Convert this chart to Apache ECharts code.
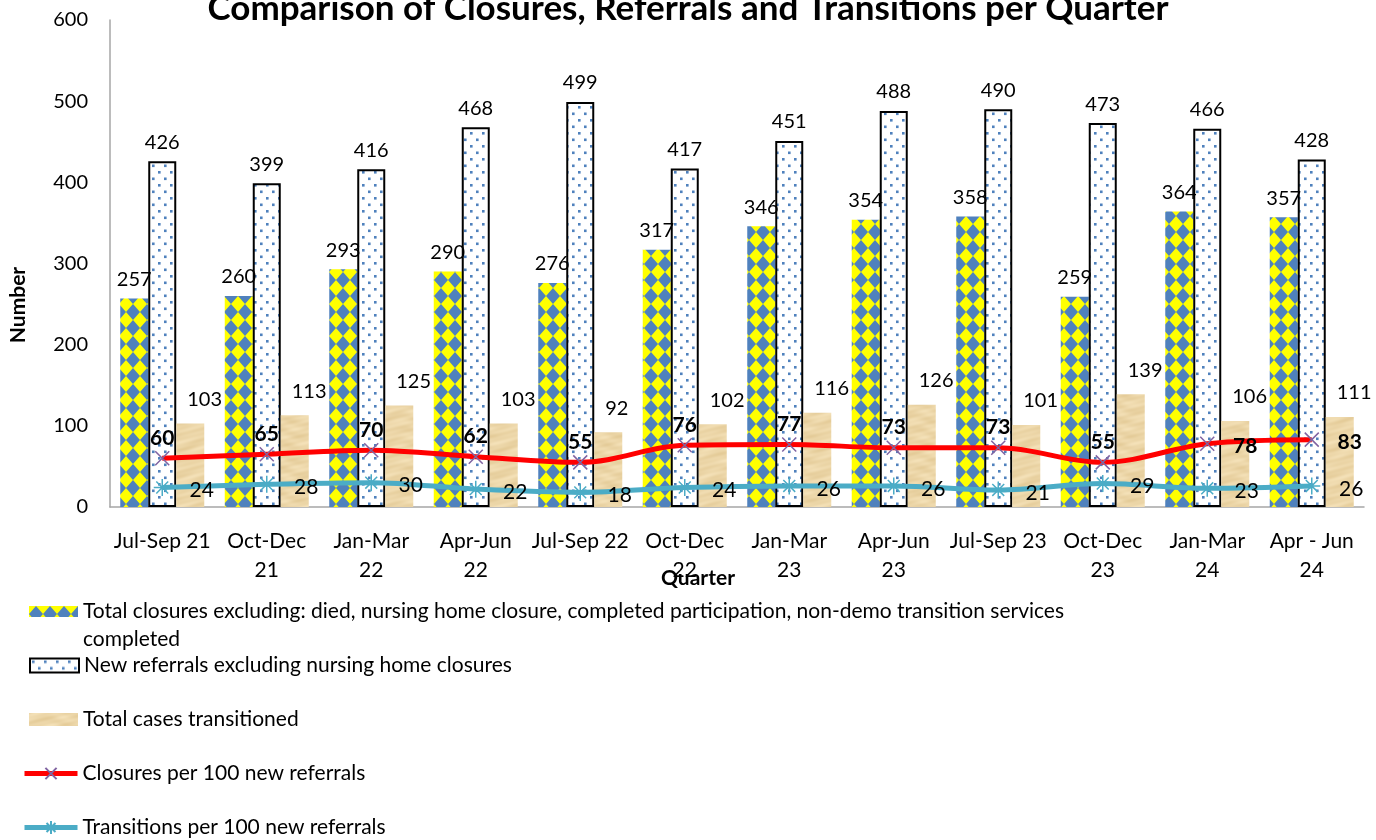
<!DOCTYPE html>
<html>
<head>
<meta charset="utf-8">
<script src="https://cdn.jsdelivr.net/npm/echarts@6/dist/echarts.min.js"></script>
<style>
  html, body { margin: 0; padding: 0; background: #ffffff; }
  #chart { width: 1376px; height: 840px; }
</style>
</head>
<body>
<div id="chart"></div>
<script>
// Quarterly figures
const quarters = ['Jul-Sep 21', 'Oct-Dec 21', 'Jan-Mar 22', 'Apr-Jun 22', 'Jul-Sep 22', 'Oct-Dec 22',
                  'Jan-Mar 23', 'Apr-Jun 23', 'Jul-Sep 23', 'Oct-Dec 23', 'Jan-Mar 24', 'Apr - Jun 24'];
const totalClosures = [257, 260, 293, 290, 276, 317, 346, 354, 358, 259, 364, 357];
const newReferrals = [426, 399, 416, 468, 499, 417, 451, 488, 490, 473, 466, 428];
const casesTransitioned = [103, 113, 125, 103, 92, 102, 116, 126, 101, 139, 106, 111];
const closuresPer100 = [60, 65, 70, 62, 55, 76, 77, 73, 73, 55, 78, 83];
const transitionsPer100 = [24, 28, 30, 22, 18, 24, 26, 26, 21, 29, 23, 26];

const NAME_CLOSURES = 'Total closures excluding: died, nursing home closure, completed participation, non-demo transition services completed';
const NAME_REFERRALS = 'New referrals excluding nursing home closures';
const NAME_TRANSITIONED = 'Total cases transitioned';
const NAME_CLOSE_RATE = 'Closures per 100 new referrals';
const NAME_TRANS_RATE = 'Transitions per 100 new referrals';

const FONT = 'Lato, "Open Sans", sans-serif';

// Yellow / blue diamond checker fill
function diamondFill() {
  const W = 14, H = 16;
  const c = document.createElement('canvas');
  c.width = W; c.height = H;
  const g = c.getContext('2d');
  g.fillStyle = '#FFFF00';
  g.fillRect(0, 0, W, H);
  g.fillStyle = '#4F81BD';
  g.beginPath();
  g.moveTo(W / 2, 0); g.lineTo(W, H / 2); g.lineTo(W / 2, H); g.lineTo(0, H / 2);
  g.closePath();
  g.fill();
  return c;
}

// White fill with staggered blue dots
function dotFill() {
  const W = 12, H = 13;
  const c = document.createElement('canvas');
  c.width = W; c.height = H;
  const g = c.getContext('2d');
  g.fillStyle = '#FFFFFF';
  g.fillRect(0, 0, W, H);
  g.fillStyle = '#4F81BD';
  g.fillRect(2, 2, 2.6, 2.6);
  g.fillRect(8, 8.5, 2.6, 2.6);
  return c;
}

// Tan parchment-like texture
function parchmentFill() {
  const W = 64, H = 64;
  const c = document.createElement('canvas');
  c.width = W; c.height = H;
  const g = c.getContext('2d');
  const img = g.createImageData(W, H);
  for (let y = 0; y < H; y++) {
    for (let x = 0; x < W; x++) {
      const n = 0.45 * Math.sin(y * 0.49 + 2.2 * Math.sin(x * 0.098))
              + 0.30 * Math.sin(x * 0.196 + y * 0.294)
              + 0.25 * Math.sin(y * 1.178 + x * 0.098 * 3);
      const i = (y * W + x) * 4;
      img.data[i] = 236 + 8 * n;
      img.data[i + 1] = 214 + 11 * n;
      img.data[i + 2] = 168 + 16 * n;
      img.data[i + 3] = 255;
    }
  }
  g.putImageData(img, 0, 0);
  return c;
}

const chart = echarts.init(document.getElementById('chart'), null, { renderer: 'canvas' });

const labelBase = { fontFamily: FONT, fontSize: 20, color: '#000000' };

const closeRateData = closuresPer100.map((v, i) => {
  if (i >= closuresPer100.length - 2) {
    return { value: v, label: { position: 'right', distance: 18, offset: [0, 3] } };
  }
  return v;
});

// One legend block per entry so each row sits on its own line
const legendBox = (name, top, iconW, iconH, isLine) => ({
  data: [{ name: name, icon: isLine ? undefined : 'rect' }],
  orient: 'vertical',
  left: isLine ? 22 : 83 - 5 - iconW,
  top: top,
  padding: 0,
  itemWidth: iconW,
  itemHeight: iconH,
  itemGap: 0,
  selectedMode: false,
  lineStyle: isLine ? { width: 5 } : undefined,
  formatter: n => n.replace(/ completed$/, ''),
  textStyle: { fontFamily: FONT, fontSize: 21, color: '#000000', lineHeight: 21 }
});

const option = {
  backgroundColor: '#ffffff',
  animation: false,
  title: {
    text: 'Comparison of Closures, Referrals and Transitions per Quarter',
    left: 'center',
    top: -14,
    textStyle: { fontFamily: FONT, fontSize: 35, fontWeight: 'bold', color: '#000000' }
  },
  legend: [
    legendBox(NAME_CLOSURES, 601, 49, 11, false),
    legendBox(NAME_REFERRALS, 655, 49, 14, false),
    legendBox(NAME_TRANSITIONED, 709, 49, 13, false),
    legendBox(NAME_CLOSE_RATE, 763, 53, 14, true),
    legendBox(NAME_TRANS_RATE, 817, 53, 16, true)
  ],
  grid: { left: 110, right: 12, top: 20, bottom: 333, containLabel: false },
  xAxis: {
    type: 'category',
    data: quarters,
    axisLine: { lineStyle: { color: '#A6A6A6', width: 1.5 } },
    axisTick: { show: false },
    axisLabel: {
      interval: 0,
      margin: 20,
      fontFamily: FONT,
      fontSize: 21,
      lineHeight: 29,
      color: '#000000',
      formatter: q => q.startsWith('Jul') ? q : q.replace(/ (\d+)$/, '\n$1')
    }
  },
  yAxis: {
    type: 'value',
    min: 0,
    max: 600,
    interval: 100,
    axisLine: { show: true, lineStyle: { color: '#A6A6A6', width: 1.5 } },
    axisTick: { show: false },
    splitLine: { show: false },
    axisLabel: { margin: 22, fontFamily: FONT, fontSize: 20, color: '#000000' }
  },
  graphic: [
    {
      type: 'text', left: 83, top: 629,
      style: { text: 'completed', font: '21px ' + FONT, fill: '#000000' }
    },
    {
      type: 'text', x: 18, y: 305, rotation: Math.PI / 2,
      style: { text: 'Number', font: 'bold 21px ' + FONT, fill: '#000000', align: 'center', verticalAlign: 'middle' }
    },
    {
      type: 'text', x: 698, y: 578,
      style: { text: 'Quarter', font: 'bold 21px ' + FONT, fill: '#000000', align: 'center', verticalAlign: 'middle' }
    }
  ],
  series: [
    {
      name: NAME_CLOSURES,
      type: 'bar',
      data: totalClosures,
      barWidth: 28,
      barGap: '0%',
      itemStyle: { color: { image: diamondFill(), repeat: 'repeat' } },
      label: Object.assign({ show: true, position: 'top', distance: 9 }, labelBase)
    },
    {
      name: NAME_REFERRALS,
      type: 'bar',
      data: newReferrals,
      barWidth: 28,
      barGap: '0%',
      itemStyle: { color: { image: dotFill(), repeat: 'repeat' }, borderColor: '#000000', borderWidth: 2 },
      label: Object.assign({ show: true, position: 'top', distance: 9 }, labelBase)
    },
    {
      name: NAME_TRANSITIONED,
      type: 'bar',
      data: casesTransitioned,
      barWidth: 28,
      barGap: '0%',
      itemStyle: { color: { image: parchmentFill(), repeat: 'repeat' } },
      label: Object.assign({ show: true, position: 'top', distance: 14, align: 'left', offset: [-3, 0] }, labelBase)
    },
    {
      name: NAME_CLOSE_RATE,
      type: 'line',
      data: closeRateData,
      smooth: 0.35,
      z: 5,
      symbol: 'path://M0,0L10,10M10,0L0,10',
      symbolSize: 14,
      showAllSymbol: true,
      lineStyle: { color: '#FF0000', width: 5 },
      itemStyle: { color: '#8064A2', borderColor: '#8064A2', borderWidth: 1.5 },
      label: Object.assign({ show: true, position: 'top', distance: 2 }, labelBase, { fontWeight: 'bold', fontSize: 21 })
    },
    {
      name: NAME_TRANS_RATE,
      type: 'line',
      data: transitionsPer100,
      smooth: 0.35,
      z: 5,
      symbol: 'path://M5,0L5,10M0,5L10,5M1.5,1.5L8.5,8.5M8.5,1.5L1.5,8.5',
      symbolSize: 17,
      showAllSymbol: true,
      lineStyle: { color: '#4BACC6', width: 5 },
      itemStyle: { color: '#4BACC6', borderColor: '#4BACC6', borderWidth: 1.5 },
      label: Object.assign({ show: true, position: 'right', distance: 18, offset: [0, 3] }, labelBase, { fontSize: 21 })
    }
  ]
};

chart.setOption(option);
</script>
</body>
</html>
